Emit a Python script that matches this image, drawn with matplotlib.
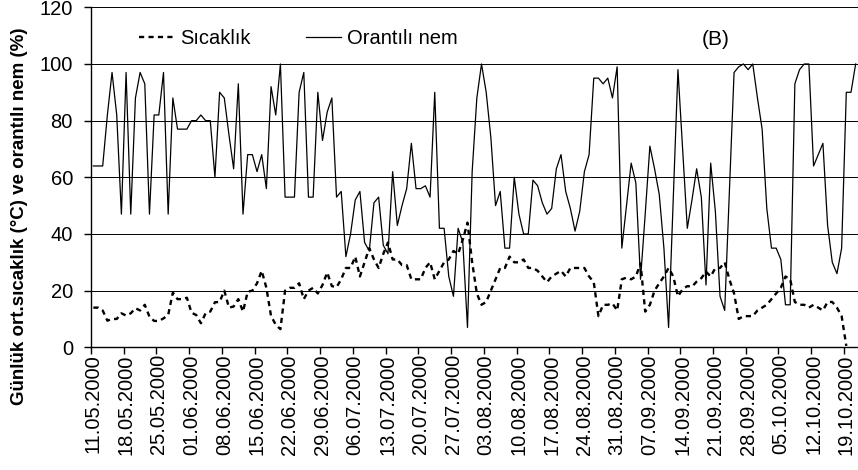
import numpy as np
import matplotlib
matplotlib.use("Agg")
import matplotlib.pyplot as plt

plt.rcParams['font.family'] = ['Liberation Sans', 'DejaVu Sans']

# Daily series from 11.05.2000 to 21.10.2000 (164 days)
humidity = [
    64, 64, 64, 82, 97, 82, 47, 97, 47, 88, 97, 93, 47, 82, 82, 97, 47, 88, 77, 77,
    77, 80, 80, 82, 80, 80, 60, 90, 88, 75, 63, 93, 47, 68, 68, 62, 68, 56, 92, 82,
    100, 53, 53, 53, 90, 97, 53, 53, 90, 73, 83, 88, 53, 55, 32, 40, 52, 55, 37, 34,
    51, 53, 36, 33, 62, 43, 50, 56, 72, 56, 56, 57, 53, 90, 42, 42, 25, 18, 42, 37,
    7, 62, 88, 100, 90, 74, 50, 55, 35, 35, 60, 47, 40, 40, 59, 57, 51, 47, 49, 63,
    68, 55, 49, 41, 48, 62, 68, 95, 95, 93, 95, 88, 99, 35, 50, 65, 58, 24, 47, 71,
    63, 54, 35, 7, 52, 98, 70, 42, 52, 63, 53, 22, 65, 48, 18, 13, 55, 97, 99, 100,
    98, 100, 88, 77, 49, 35, 35, 31, 15, 15, 93, 98, 100, 100, 64, 68, 72, 43, 30, 26,
    35, 90, 90, 100,
]

temperature = [
    14, 14, 13, 9.4, 10, 10, 12, 11.2, 12, 13.8, 13, 15, 10.8, 9.3, 9.3, 10.2, 11.4, 19.3, 17, 17,
    17.5, 12.2, 11.4, 8.5, 12, 12.6, 15.9, 16, 20, 14, 14.4, 17, 12.6, 19.6, 20, 22.6, 27, 21, 11, 8,
    6.4, 20, 21, 21, 22.6, 17, 20, 21, 19, 22, 26.4, 21.6, 21.2, 24, 28, 28, 32, 25, 30, 35,
    31, 28, 33, 37, 31, 31, 29, 29, 24, 24, 24, 28, 30, 24, 27, 30, 31, 34, 33, 38,
    44, 30, 19, 15, 16, 20, 24, 28, 28, 32, 30, 30, 31, 28, 28, 27, 25, 23, 25, 26,
    27, 25, 28, 28, 28, 28, 25, 23, 11, 15, 15, 15.5, 13, 24, 24.6, 24, 25, 29.6, 12.6, 15,
    20, 22.6, 25, 28, 25, 18, 20.5, 21.6, 21.4, 23.2, 24.4, 26.7, 25, 28, 28, 30, 24, 19, 10, 11,
    11, 11, 13, 14, 15, 17, 19, 21, 25, 24, 16, 15, 15, 14, 15, 14, 13, 16, 16, 14,
    11, 0.5, np.nan, np.nan,
]

tick_labels = [
    "11.05.2000", "18.05.2000", "25.05.2000", "01.06.2000", "08.06.2000", "15.06.2000",
    "22.06.2000", "29.06.2000", "06.07.2000", "13.07.2000", "20.07.2000", "27.07.2000",
    "03.08.2000", "10.08.2000", "17.08.2000", "24.08.2000", "31.08.2000", "07.09.2000",
    "14.09.2000", "21.09.2000", "28.09.2000", "05.10.2000", "12.10.2000", "19.10.2000",
]

n = len(humidity)
x = np.arange(n)

fig = plt.figure(figsize=(8.58, 4.70), dpi=100)
ax = fig.add_axes([91/858, 1 - 347.3/470, 1 - 91/858, (347.3 - 7.3)/470])

ax.plot(x, temperature, color='black', lw=1.7, linestyle=(0, (2.2, 1.8)), label='Sıcaklık')
ax.plot(x, humidity, color='black', lw=0.9, label='Orantılı nem')

ax.set_xlim(-0.5, n - 0.5)
ax.set_ylim(0, 120)
ax.set_yticks(np.arange(0, 121, 20))
ax.yaxis.grid(True, color='black', lw=0.7)
ax.set_axisbelow(True)

# tick marks at category boundaries, labels centred on categories
ax.set_xticks(np.arange(-0.5, n, 7))
ax.set_xticklabels([])
ax.set_xticks(np.arange(0, 7 * len(tick_labels), 7), minor=True)
ax.set_xticklabels(tick_labels, minor=True, rotation=90, fontsize=14.5)
ax.tick_params(axis='x', which='minor', length=0, pad=5)
ax.tick_params(axis='x', which='major', length=5, width=1, direction='out')
ax.tick_params(axis='y', length=5, width=1, direction='out', labelsize=14.5, pad=8)

for s in ['top', 'right']:
    ax.spines[s].set_visible(False)
ax.spines['left'].set_linewidth(1)
ax.spines['bottom'].set_linewidth(1)

fig.text(20/858, 1 - 216/470, 'Günlük ort.sıcaklık (°C) ve orantılı nem (%)', fontsize=13.5,
         fontweight='bold', rotation=90, ha='center', va='center')

leg = ax.legend(loc='upper left', bbox_to_anchor=(0.062, 0.935), ncol=2, frameon=False,
                fontsize=14.5, handlelength=1.75, columnspacing=2.75, handletextpad=0.3,
                borderpad=0, borderaxespad=0)

ax.text(0.815, 0.904, '(B)', transform=ax.transAxes, fontsize=15, ha='center', va='center')

fig.savefig('out.png', dpi=100)
